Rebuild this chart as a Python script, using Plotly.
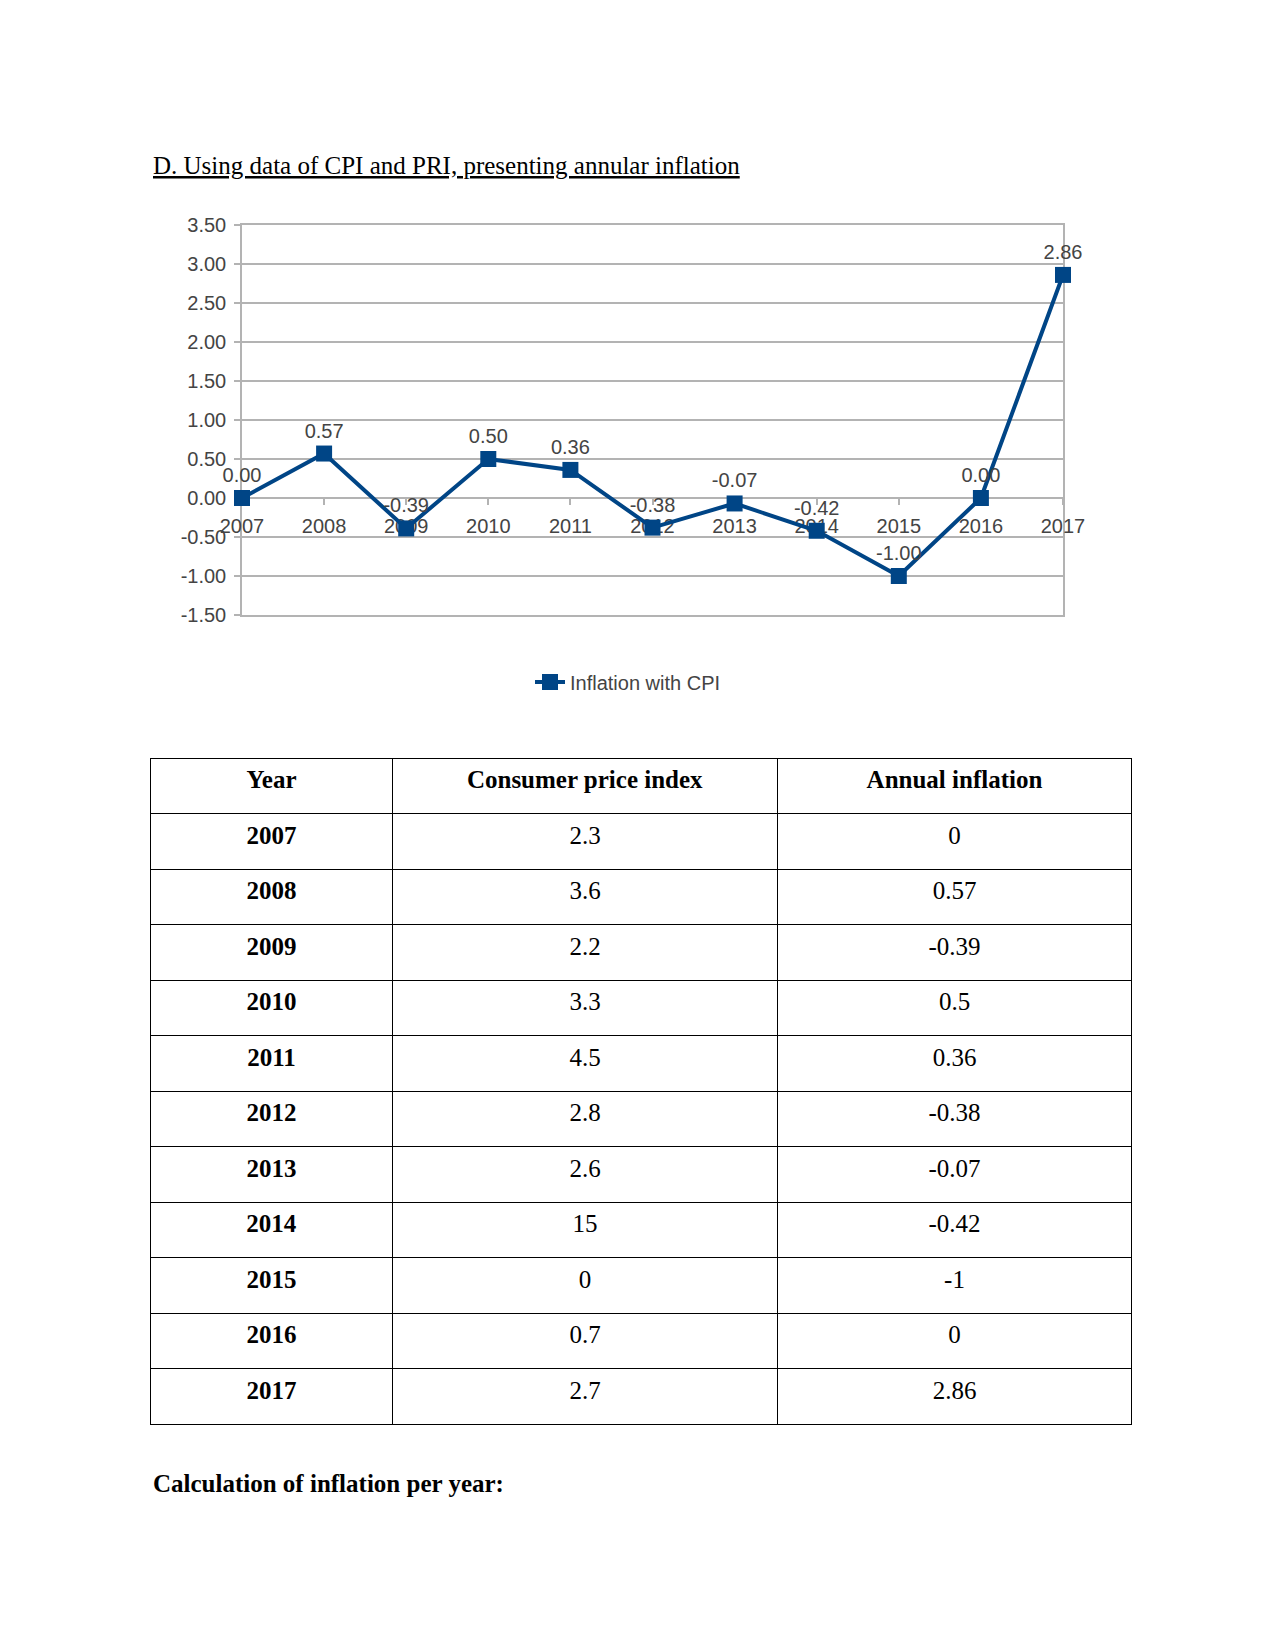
import plotly.graph_objects as go

years = ["2007", "2008", "2009", "2010", "2011", "2012", "2013", "2014", "2015", "2016", "2017"]
inflation = [0.00, 0.57, -0.39, 0.50, 0.36, -0.38, -0.07, -0.42, -1.00, 0.00, 2.86]
cpi_table = ["2.3", "3.6", "2.2", "3.3", "4.5", "2.8", "2.6", "15", "0", "0.7", "2.7"]
infl_table = ["0", "0.57", "-0.39", "0.5", "0.36", "-0.38", "-0.07", "-0.42", "-1", "0", "2.86"]
headers = ["Year", "Consumer price index", "Annual inflation"]
y_ticks = [-1.5, -1.0, -0.5, 0.0, 0.5, 1.0, 1.5, 2.0, 2.5, 3.0, 3.5]

W, H = 1275, 1651
BLUE = "#004586"
GRID = "#b3b3b3"
TXT = "#444444"
SANS = "Liberation Sans, Arial, sans-serif"
SERIF = "Liberation Serif, Times New Roman, serif"

def px_x(p):
    return p / W

def px_y(p):
    return 1 - p / H

# plot area in pixels
L, R, T, B = 242, 1063, 225, 615
ymin, ymax = -1.5, 3.5
zero_px = B - (0 - ymin) / (ymax - ymin) * (B - T)

def plain(s):
    return "<span>%s</span>" % s

fig = go.Figure()

# helper axis for the plot-area frame (top and bottom border lines)
fig.add_trace(go.Scatter(x=[], y=[], xaxis="x2", yaxis="y", showlegend=False, hoverinfo="skip"))

fig.add_trace(go.Scatter(
    x=years, y=inflation, mode="lines+markers+text",
    name="Inflation with CPI",
    line=dict(color=BLUE, width=4),
    marker=dict(symbol="square", size=16, color=BLUE),
    text=["%.2f" % v for v in inflation], textposition="top center",
    textfont=dict(family=SANS, size=20, color=TXT),
    cliponaxis=False,
    xaxis="x", yaxis="y",
))

fig.add_trace(go.Table(
    domain=dict(x=[px_x(150.5), px_x(1131.7)], y=[px_y(1445), px_y(758)]),
    columnwidth=[242, 385, 354],
    header=dict(
        values=["<b>%s</b>" % h for h in headers],
        height=55.5, align="center",
        line=dict(color="black", width=1),
        fill=dict(color="white"),
        font=dict(family=SERIF, size=25, color="black"),
    ),
    cells=dict(
        values=[["<b>%s</b>" % y for y in years],
                [plain(v) for v in cpi_table],
                [plain(v) for v in infl_table]],
        height=55.5, align="center",
        line=dict(color="black", width=1),
        fill=dict(color="white"),
        font=dict(family=SERIF, size=25, color="black"),
    ),
))

fig.update_layout(
    width=W, height=H,
    margin=dict(l=0, r=0, t=0, b=0, pad=0, autoexpand=False),
    paper_bgcolor="white", plot_bgcolor="white",
    showlegend=True,
    legend=dict(orientation="h", x=px_x(628), y=px_y(682), xanchor="center", yanchor="middle",
                font=dict(family=SANS, size=20, color=TXT), bgcolor="rgba(0,0,0,0)"),
    xaxis=dict(
        domain=[px_x(L), px_x(R)], type="category", range=[0, 10],
        anchor="free", position=px_y(zero_px), automargin=False, layer="below traces",
        showgrid=False, showline=False, zeroline=False,
        ticks="outside", ticklen=6, tickcolor=GRID, tickwidth=1.5,
        ticklabelstandoff=4,
        tickfont=dict(family=SANS, size=20, color=TXT),
    ),
    xaxis2=dict(
        domain=[px_x(L), px_x(R)], overlaying="x", anchor="y", range=[0, 1],
        showline=True, mirror=True, linecolor=GRID, linewidth=1.5, layer="below traces",
        showgrid=False, zeroline=False, showticklabels=False, ticks="",
        automargin=False, fixedrange=True,
    ),
    yaxis=dict(
        domain=[px_y(B), px_y(T)], range=[ymin, ymax], automargin=False, layer="below traces",
        tickvals=y_ticks, ticktext=["%.2f" % v for v in y_ticks],
        showgrid=True, gridcolor=GRID, gridwidth=1.5,
        zeroline=True, zerolinecolor=GRID, zerolinewidth=1.5,
        showline=True, linecolor=GRID, linewidth=1.5, mirror=True,
        ticks="outside", ticklen=6, tickcolor=GRID, tickwidth=1.5,
        ticklabelstandoff=4,
        tickfont=dict(family=SANS, size=20, color=TXT),
    ),
    annotations=[
        dict(text="<u>D. Using data of CPI and PRI, presenting annular inflation</u>",
             x=px_x(150.5), y=px_y(165), xref="paper", yref="paper",
             xanchor="left", yanchor="middle", showarrow=False,
             font=dict(family=SERIF, size=25, color="black")),
        dict(text="<b>Calculation of inflation per year:</b>",
             x=px_x(150.5), y=px_y(1483), xref="paper", yref="paper",
             xanchor="left", yanchor="middle", showarrow=False,
             font=dict(family=SERIF, size=25, color="black")),
    ],
)

fig.write_html("out.html", config={"displayModeBar": False},
               post_script="document.body.style.margin='0';")
